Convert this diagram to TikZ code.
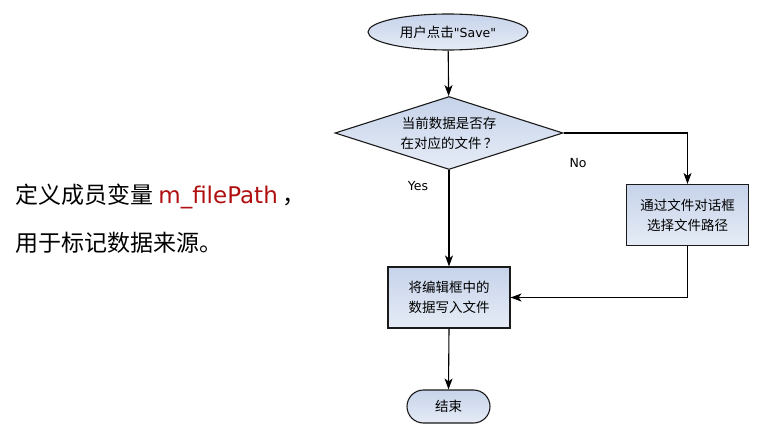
\documentclass[tikz,border=0pt]{standalone}
\usepackage{fontspec}
\setmainfont{Noto Sans CJK SC}
\newfontfamily\latinfont{DejaVu Sans}
\usetikzlibrary{shapes.geometric,arrows.meta}
\definecolor{boxtop}{HTML}{C6D3EA}
\definecolor{boxbot}{HTML}{E6ECF6}
\definecolor{edgecol}{HTML}{1A1A1A}
\definecolor{varred}{HTML}{B01010}
\tikzset{
  x=1pt,y=-1pt,
  fillbox/.style={draw=edgecol,line width=1.1pt,top color=boxtop,bottom color=boxbot,
    inner sep=0pt,align=center,font=\fontsize{13.5}{20}\selectfont},
  startshape/.style={fillbox,ellipse,minimum width=160pt,minimum height=36pt},
  decshape/.style={fillbox,diamond,aspect=3.1,minimum width=228pt,minimum height=73pt},
  procbox/.style={fillbox,rectangle,minimum width=122pt,minimum height=61pt},
  endshape/.style={fillbox,rectangle,rounded corners=16.5pt,minimum width=83pt,minimum height=33pt},
  conn/.style={draw=black,line width=1.1pt,-{Stealth[length=11pt,width=8pt,inset=3pt]}},
  branchlabel/.style={font=\latinfont\fontsize{12.5}{14}\selectfont,inner sep=0pt},
  lefttext/.style={anchor=west,inner sep=0pt,font=\fontsize{23}{26}\selectfont}
}
\begin{document}
\begin{tikzpicture}
\useasboundingbox[fill=white] (0,0) rectangle (763,441);
\node[startshape] (start) at (448,32) {用户点击{\latinfont\fontsize{12.5}{14}\selectfont"Save"}};
\node[decshape] (dec) at (449,133) {当前数据是否存\\在对应的文件\,？};
\node[procbox] (write) at (449,297.5) {将编辑框中的\\数据写入文件};
\node[procbox] (choose) at (687.5,215) {通过文件对话框\\选择文件路径};
\node[endshape] (end) at (448.5,406.5) {结束};
\draw[conn] (start) -- (dec);
\draw[conn] (dec.south) -- (write.north);
\draw[conn] (dec.east) -| (choose.north);
\draw[conn] (choose.south) |- (write.east);
\draw[conn] (write.south) -- (end.north);
\node[branchlabel] (yes) at (418,186) {Yes};
\node[branchlabel] (no) at (578,163) {No};
\node[lefttext] (line1) at (15,196) {定义成员变量 {\latinfont\color{varred}m\_filePath} ，};
\node[lefttext] (line2) at (15,243) {用于标记数据来源。};
\end{tikzpicture}
\end{document}
